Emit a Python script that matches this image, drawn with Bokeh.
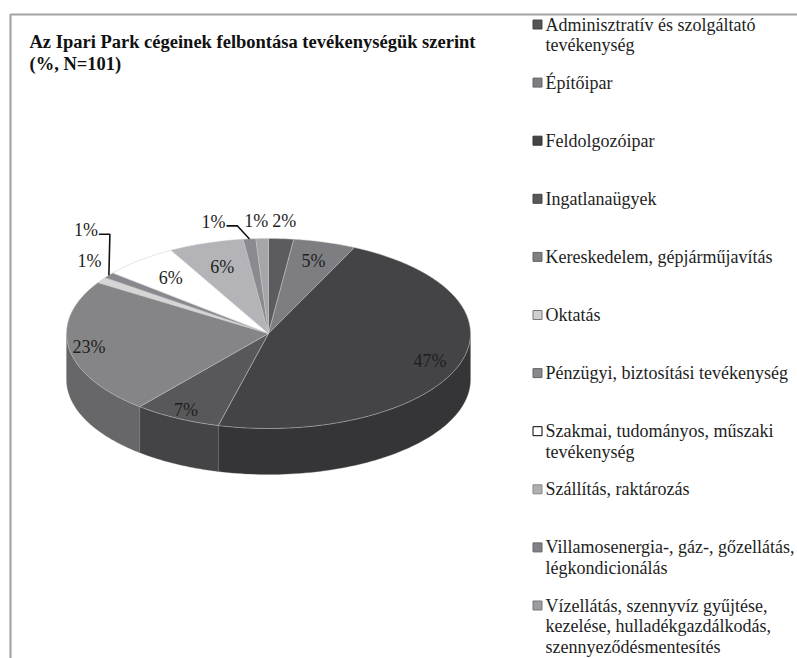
import numpy as np
from bokeh.plotting import figure
from bokeh.models import Range1d
from bokeh.core.properties import value
from bokeh.embed import file_html
from bokeh.resources import INLINE

# ---------------- data ----------------
categories = [
    "Adminisztratív és szolgáltató tevékenység",
    "Építőipar",
    "Feldolgozóipar",
    "Ingatlanaügyek",
    "Kereskedelem, gépjárműjavítás",
    "Oktatás",
    "Pénzügyi, biztosítási tevékenység",
    "Szakmai, tudományos, műszaki tevékenység",
    "Szállítás, raktározás",
    "Villamosenergia-, gáz-, gőzellátás, légkondicionálás",
    "Vízellátás, szennyvíz gyűjtése, kezelése, hulladékgazdálkodás, szennyeződésmentesítés",
]
percentages = [2, 5, 47, 7, 23, 1, 1, 6, 6, 1, 1]
legend_lines = [
    ["Adminisztratív és szolgáltató", "tevékenység"],
    ["Építőipar"],
    ["Feldolgozóipar"],
    ["Ingatlanaügyek"],
    ["Kereskedelem, gépjárműjavítás"],
    ["Oktatás"],
    ["Pénzügyi, biztosítási tevékenység"],
    ["Szakmai, tudományos, műszaki", "tevékenység"],
    ["Szállítás, raktározás"],
    ["Villamosenergia-, gáz-, gőzellátás,", "légkondicionálás"],
    ["Vízellátás, szennyvíz gyűjtése,", "kezelése, hulladékgazdálkodás,", "szennyeződésmentesítés"],
]
title_lines = ["Az Ipari Park cégeinek felbontása tevékenységük szerint", "(%, N=101)"]

# ---------------- style ----------------
top_colors = ["#5c5c60", "#7e7e82", "#444447", "#58585b", "#858588", "#d6d6d6",
              "#88888e", "#ffffff", "#b4b4b8", "#8a8a90", "#a6a6aa"]
legend_colors = ["#555558", "#7e7e82", "#444447", "#58585b", "#7f7f82", "#cfcfcf",
                 "#88888e", "#ffffff", "#b0b0b4", "#808086", "#9c9ca0"]
legend_edges = ["#444", "#666", "#333", "#444", "#666", "#777", "#666", "#000", "#888", "#666", "#777"]

def darker(hex_color, f=0.78):
    h = hex_color.lstrip("#")
    r, g, b = (int(h[i:i + 2], 16) for i in (0, 2, 4))
    return "#%02x%02x%02x" % (int(r * f), int(g * f), int(b * f))

# pie geometry (screen-like coordinates, y grows downward)
CX, CY, RX, RY, DEPTH = 268, 333, 202, 95, 46
FONT = value("Liberation Serif")

# label layout: ("in", radial factor) or ("out", dx, dy, leader)
label_layout = [
    ("out", 3, -18, False),
    ("in", 0.80),
    ("in", 0.85),
    ("in", 0.90),
    ("in", 0.90),
    ("out", -12, -19, False),
    ("out", -23, -45, True),
    ("in", 0.76),
    ("in", 0.74),
    ("out", -36, -17, True),
    ("out", -6, -18, False),
]

W, H = 797, 658
p = figure(width=W, height=H, output_backend="svg", toolbar_location=None,
           x_range=Range1d(0, W), y_range=Range1d(H, 0),
           min_border=0, outline_line_color=None)
p.axis.visible = False
p.grid.visible = False
p.background_fill_color = "white"
p.border_fill_color = "white"

# frame border
p.line([10, 10, 800], [700, 14, 14], line_color="#a4a4a4", line_width=2.2)

def ell(theta_deg, f=1.0, dy=0.0):
    t = np.radians(theta_deg)
    return CX + f * RX * np.sin(t), CY - f * RY * np.cos(t) + dy

total = float(sum(percentages))
bounds = np.concatenate([[0.0], np.cumsum(percentages) / total * 360.0])

# sides (front half: 90..270 degrees)
for i in range(len(percentages)):
    a0, a1 = max(bounds[i], 90.0), min(bounds[i + 1], 270.0)
    if a1 <= a0:
        continue
    th = np.linspace(a0, a1, 80)
    xt, yt = ell(th)
    xb, yb = ell(th[::-1], dy=DEPTH)
    p.patch(np.concatenate([xt, xb]), np.concatenate([yt, yb]),
            fill_color=darker(top_colors[i]), line_color="#777777", line_width=0.5, line_alpha=0.6)

# top faces
for i in range(len(percentages)):
    th = np.linspace(bounds[i], bounds[i + 1], max(4, int((bounds[i + 1] - bounds[i]) * 2)))
    xs, ys = ell(th)
    p.patch(np.concatenate([[CX], xs]), np.concatenate([[CY], ys]),
            fill_color=top_colors[i], line_color="#c8c8c8", line_width=0.6, line_alpha=0.8)

# data labels
lx, ly, lt = [], [], []
for i, pct in enumerate(percentages):
    mid = (bounds[i] + bounds[i + 1]) / 2
    lay = label_layout[i]
    if lay[0] == "in":
        x, y = ell(mid, lay[1])
    else:
        ax_, ay_ = ell(mid)
        x, y = ax_ + lay[1], ay_ + lay[2]
        if lay[3]:
            p.line([x + 13, x + 24, ax_], [y + 4, y + 4, ay_], line_color="#111111", line_width=1.6)
    lx.append(x); ly.append(y); lt.append(f"{pct}%")
p.text(lx, ly, text=lt, text_font=FONT, text_font_size="18px", text_color="#1e1e1e",
       text_align="center", text_baseline="middle")

# title
p.text([29, 29], [41, 63], text=title_lines, text_font=FONT, text_font_size="18.5px",
       text_font_style="bold", text_color="#111111", text_baseline="middle")

# legend
LEG_Y0, LEG_STEP, LINE_H = 24, 58.1, 20.5
mx, my = [], []
tx, ty, tt = [], [], []
for i, lines in enumerate(legend_lines):
    y0 = LEG_Y0 + i * LEG_STEP
    mx.append(537); my.append(y0)
    for j, s in enumerate(lines):
        tx.append(545); ty.append(y0 + j * LINE_H); tt.append(s)
p.scatter(mx, my, marker="square", size=9, fill_color=legend_colors, line_color=legend_edges, line_width=1)
p.text(tx, ty, text=tt, text_font=FONT, text_font_size="18px", text_color="#1e1e1e",
       text_baseline="middle")

open("out.html", "w").write(file_html(p, INLINE))
